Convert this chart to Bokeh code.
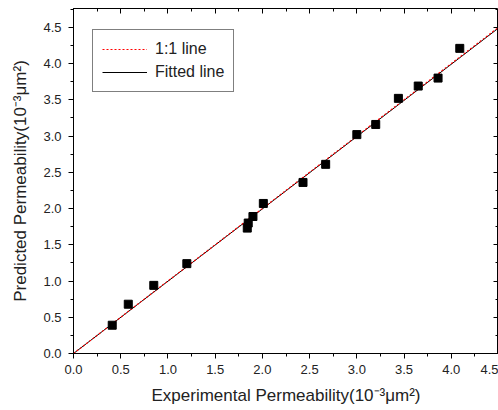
from bokeh.plotting import figure
from bokeh.models import (Range1d, LinearAxis, Legend, LegendItem, SingleIntervalTicker,
                          NumeralTickFormatter, CustomJSTickFormatter)
from bokeh.embed import file_html
from bokeh.resources import INLINE

# Data
exp_perm = [0.41, 0.58, 0.85, 1.20, 1.84, 1.85, 1.90, 2.01, 2.43, 2.67, 3.00, 3.20, 3.44, 3.65, 3.86, 4.09]
pred_perm = [0.39, 0.68, 0.94, 1.24, 1.73, 1.80, 1.89, 2.07, 2.36, 2.61, 3.02, 3.16, 3.52, 3.69, 3.80, 4.21]
one_x = [0.0, 4.5]
one_y = [0.0, 4.5]
fit_x = [0.0, 4.5]
fit_y = [0.0, 4.49]

FONT = "Liberation Sans"
TXT = "#222222"

p = figure(width=498, height=410, output_backend="svg", toolbar_location=None,
           x_range=Range1d(0, 4.5), y_range=Range1d(0, 4.76),
           min_border_left=73, min_border_right=0, min_border_top=8, min_border_bottom=57,
           background_fill_color="white", border_fill_color="white")
p.grid.visible = False
p.outline_line_color = "black"
p.outline_line_width = 1

p.xaxis.ticker = SingleIntervalTicker(interval=0.5, num_minor_ticks=2)
p.yaxis.ticker = SingleIntervalTicker(interval=0.5, num_minor_ticks=2)
p.xaxis.formatter = NumeralTickFormatter(format="0.0")
p.yaxis.formatter = NumeralTickFormatter(format="0.0")

for ax in (p.xaxis[0], p.yaxis[0]):
    ax.axis_line_color = "black"
    ax.major_tick_line_color = "black"
    ax.minor_tick_line_color = "black"
    ax.major_tick_out = 5
    ax.major_tick_in = 0
    ax.minor_tick_out = 3
    ax.minor_tick_in = 0
    ax.major_label_text_font = FONT
    ax.major_label_text_font_size = "13px"
    ax.major_label_text_color = TXT
    ax.axis_label_text_font = FONT
    ax.axis_label_text_font_size = "17px"
    ax.axis_label_text_font_style = "normal"
    ax.axis_label_text_color = TXT

p.xaxis[0].axis_label = "Experimental Permeability(10\u207b\u00b3\u03bcm\u00b2)"
p.yaxis[0].axis_label = "Predicted Permeability(10\u207b\u00b3\u03bcm\u00b2)"
p.xaxis[0].major_label_standoff = 6
p.yaxis[0].major_label_standoff = 7
p.xaxis[0].axis_label_standoff = 9
p.yaxis[0].axis_label_standoff = 10

blank = CustomJSTickFormatter(code="return '';")

def mirror_axis():
    return LinearAxis(ticker=SingleIntervalTicker(interval=0.5, num_minor_ticks=2),
                      formatter=blank, major_label_standoff=0, axis_label_standoff=0,
                      major_label_text_font_size="0px",
                      axis_line_color=None, major_tick_in=5, major_tick_out=0,
                      minor_tick_in=3, minor_tick_out=0)

p.add_layout(mirror_axis(), "above")
p.add_layout(mirror_axis(), "right")

r_fit = p.line(fit_x, fit_y, line_color="black", line_width=1)
r_one = p.line(one_x, one_y, line_color="red", line_width=1.2, line_dash="2 2")
p.scatter(exp_perm, pred_perm, marker="square", size=8, fill_color="black", line_color="black")

legend = Legend(items=[LegendItem(label="1:1 line", renderers=[r_one]),
                       LegendItem(label="Fitted line", renderers=[r_fit])],
                location=(19, 261), glyph_width=45, glyph_height=20,
                label_standoff=8, label_text_font=FONT, label_text_font_size="16px",
                label_text_color=TXT, label_height=20, spacing=3, padding=9, margin=0,
                border_line_color="black", border_line_width=1,
                background_fill_alpha=1.0)
p.add_layout(legend, "center")

open("out.html", "w").write(file_html(p, INLINE))
